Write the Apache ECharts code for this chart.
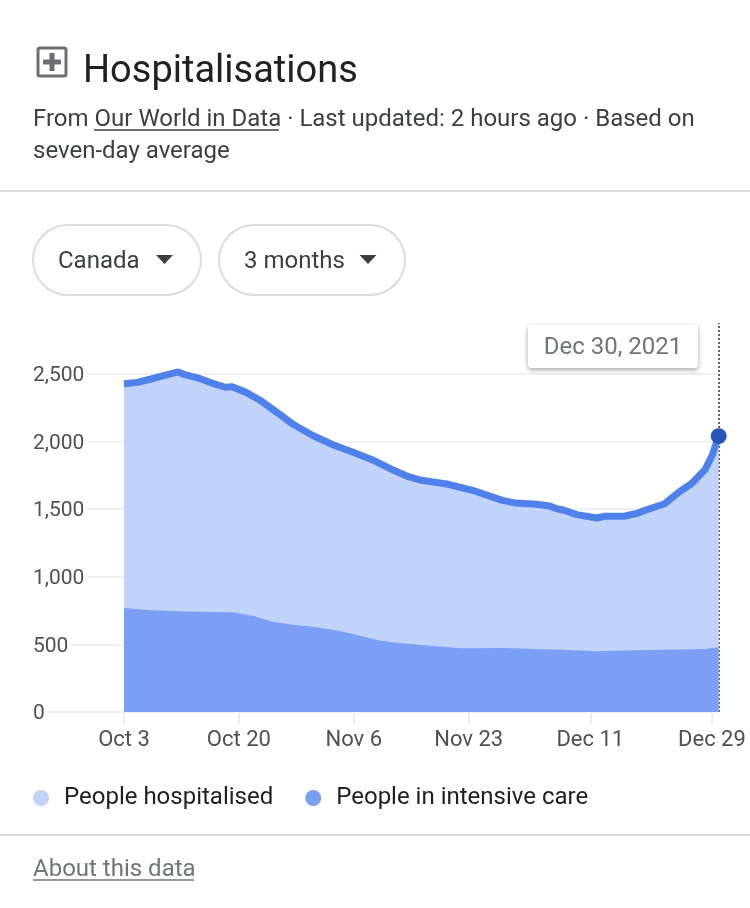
<!DOCTYPE html>
<html>
<head>
<meta charset="utf-8">
<style>html,body{margin:0;padding:0;background:#fff}#c{width:750px;height:908px}</style>
<script src="https://cdn.jsdelivr.net/npm/echarts@6/dist/echarts.min.js"></script>
</head>
<body>
<div id="c"></div>
<script>
// Days counted from Oct 3, 2021
const tickDays = [0, 17, 34, 51, 69, 87];
const tickLabels = ['Oct 3', 'Oct 20', 'Nov 6', 'Nov 23', 'Dec 11', 'Dec 29'];
const hospDays = [0,2,4,6,8,9,11,13,15,16,18,20,23,25,28,31,34,37,40,42,44,48,52,56,58,61,63,64,65,67,70,71,74,76,77,80,82,84,86,87,88];
const hospValues = [2428,2438,2463,2490,2515,2495,2470,2433,2402,2405,2366,2310,2203,2128,2043,1975,1919,1860,1786,1742,1714,1684,1633,1565,1545,1537,1524,1503,1494,1460,1435,1447,1448,1470,1490,1540,1622,1690,1795,1895,2040];
const icuDays = [0,4,9,16,19,22,25,28,32,34,38,41,44,50,56,61,65,70,75,82,86,88];
const icuValues = [769,752,744,737,712,668,646,631,600,575,527,508,496,471,473,466,461,449,456,463,466,478];
const seriesNames = ['People hospitalised', 'People in intensive care'];
const yMax = 3000, guideTop = 2877, lastDay = 88;

const FONT = 'Roboto';
const txt = (x, y, text, size, fill, extra) => ({
  type: 'text', x, y, silent: true,
  style: Object.assign({ text, font: size + 'px ' + FONT, fill, textVerticalAlign: 'middle' }, extra || {})
});
const line = (x1, y1, x2, y2, stroke, w) => ({
  type: 'line', silent: true, shape: { x1, y1, x2, y2 }, style: { stroke, lineWidth: w }
});
const pill = (x, w) => ({
  type: 'rect', silent: true, shape: { x, y: 225, width: w, height: 70, r: 35 },
  style: { fill: '#fff', stroke: '#dadce0', lineWidth: 2 }
});
const tri = cx => ({
  type: 'polygon', silent: true,
  shape: { points: [[cx - 8.5, 255], [cx + 8.5, 255], [cx, 264]] }, style: { fill: '#3c4043' }
});

const chart = echarts.init(document.getElementById('c'), null, { renderer: 'canvas' });
chart.setOption({
  animation: false,
  backgroundColor: '#fff',
  title: {
    text: 'Hospitalisations', left: 83, top: 50, padding: 0,
    textStyle: { fontFamily: FONT, fontSize: 38, fontWeight: 400, color: '#202124', lineHeight: 44 }
  },
  grid: { left: 33, right: 750 - 718.7, top: 712 - 0.1352 * yMax, bottom: 908 - 712, containLabel: false },
  xAxis: {
    type: 'value', min: -13.465, max: lastDay,
    splitLine: { show: false },
    axisLine: { show: false },
    axisTick: { show: true, customValues: tickDays, length: 12, lineStyle: { color: '#eeeeee', width: 2 } },
    axisLabel: {
      customValues: tickDays, margin: 17,
      fontFamily: FONT, fontSize: 22, color: '#4d5156',
      formatter: v => tickLabels[tickDays.indexOf(v)]
    }
  },
  yAxis: {
    type: 'value', min: 0, max: yMax, interval: 500,
    axisLine: { show: false }, axisTick: { show: false },
    splitLine: { show: true, showMaxLine: false, lineStyle: { color: '#f0f0f0', width: 2 } },
    axisLabel: {
      inside: true, margin: 0, align: 'left', showMaxLabel: false,
      formatter: v => '{n|' + (v === 0 ? '0' : v.toLocaleString('en-US')) + '}',
      rich: { n: { fontFamily: FONT, fontSize: 21, color: '#4d5156', backgroundColor: '#fff', padding: [4, 3, 0, 0] } }
    }
  },
  legend: {
    left: 33, top: 786, icon: 'circle', itemWidth: 16, itemHeight: 16, itemGap: 32, padding: 0,
    textStyle: { fontFamily: FONT, fontSize: 24, color: '#202124', padding: [2, 0, 0, 10] },
    data: [
      { name: seriesNames[0], itemStyle: { color: '#c1d3f8', borderWidth: 0 } },
      { name: seriesNames[1], itemStyle: { color: '#7a9ff5', borderWidth: 0 } }
    ]
  },
  series: [
    {
      name: seriesNames[0], type: 'line', z: 2, clip: false,
      data: hospDays.map((d, i) => [d, hospValues[i]]),
      symbol: (v, p) => p.dataIndex === hospDays.length - 1 ? 'circle' : 'none',
      symbolSize: 16, showSymbol: true, showAllSymbol: true,
      itemStyle: { color: '#2756bb' },
      lineStyle: { color: '#4f81ea', width: 7 },
      areaStyle: { color: '#c1d3f8', opacity: 1 },
      markLine: {
        silent: true, symbol: 'none', z: 1, animation: false, label: { show: false },
        lineStyle: { color: '#5f6368', type: 'dotted', width: 2 },
        data: [[{ coord: [lastDay, 0] }, { coord: [lastDay, guideTop] }]]
      }
    },
    {
      name: seriesNames[1], type: 'line', z: 3, clip: false, symbol: 'none',
      data: icuDays.map((d, i) => [d, icuValues[i]]),
      itemStyle: { color: '#7a9ff5' },
      lineStyle: { width: 0 },
      areaStyle: { color: '#7a9ff5', opacity: 1 }
    }
  ],
  graphic: [
    { type: 'rect', silent: true, shape: { x: 38, y: 48, width: 28, height: 28, r: 2 }, style: { fill: '#fff', stroke: '#6b6f74', lineWidth: 3 } },
    { type: 'rect', silent: true, shape: { x: 43, y: 59.5, width: 18, height: 5 }, style: { fill: '#6b6f74' } },
    { type: 'rect', silent: true, shape: { x: 49.5, y: 53, width: 5, height: 18 }, style: { fill: '#6b6f74' } },
    txt(33, 120, 'From Our World in Data \u00b7 Last updated: 2 hours ago \u00b7 Based on', 24, '#3c4043'),
    txt(33, 152, 'seven-day average', 24, '#3c4043'),
    line(94, 130, 279, 130, '#3c4043', 1.5),
    line(0, 191, 750, 191, '#dadce0', 2),
    pill(33, 168), pill(219, 186),
    txt(58, 262, 'Canada', 24, '#3c4043'),
    tri(164.5),
    txt(244, 262, '3 months', 24, '#3c4043'),
    tri(368),
    { type: 'rect', silent: true, z: 50, shape: { x: 528, y: 325, width: 170, height: 43, r: 3 },
      style: { fill: '#fff', shadowBlur: 5, shadowColor: 'rgba(0,0,0,0.35)', shadowOffsetY: 2 } },
    Object.assign(txt(613, 348, 'Dec 30, 2021', 24, '#70757a', { textAlign: 'center' }), { z: 51 }),
    line(0, 835, 750, 835, '#dadce0', 2),
    txt(33, 870, 'About this data', 24, '#70757a'),
    line(33, 880, 194, 880, '#70757a', 1.5)
  ]
});
</script>
</body>
</html>
